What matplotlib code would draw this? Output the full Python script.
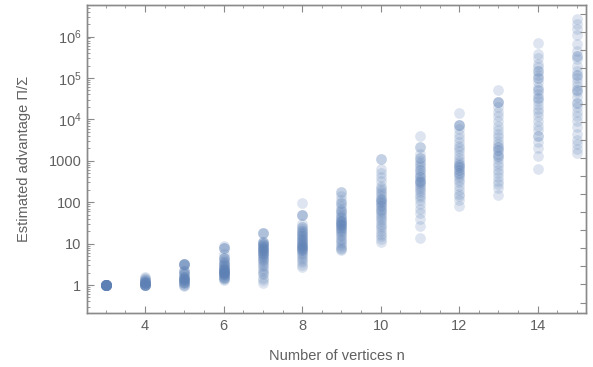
import numpy as np
import matplotlib
matplotlib.use('Agg')
import matplotlib.pyplot as plt
from matplotlib.ticker import FixedLocator, NullFormatter

plt.rcParams['font.family'] = ['Liberation Sans', 'DejaVu Sans']
plt.rcParams['mathtext.fontset'] = 'custom'
plt.rcParams['mathtext.rm'] = 'Liberation Sans'
plt.rcParams['mathtext.it'] = 'Liberation Sans'

# estimated advantage per number of vertices
n3 = [1, 1, 1, 1, 1, 1, 1, 1, 1, 1, 1, 1, 1, 1, 1, 1, 1, 1, 1, 1, 1, 1, 1, 1]
n4 = [1, 1, 1, 1, 1, 1, 1, 1, 1.05, 1.1, 1.1, 1.1, 1.1, 1.15, 1.2, 1.2, 1.2,
      1.25, 1.3, 1.35, 1.4, 1.5, 1.6]
n5 = [3.3, 3.3, 3.3, 3.3, 3.3, 3.0, 2.2, 2.2, 2.2, 2.0, 1.8, 1.8, 1.6, 1.6, 1.6,
      1.5, 1.4, 1.4, 1.4, 1.3, 1.3, 1.3, 1.2, 1.2, 1.2, 1.1, 1.1, 1.0, 1.0, 0.95]
n6 = [9, 8, 8, 8, 5.5, 4.5, 4.5, 4.5, 4, 3.5, 3.2, 3.2, 3, 2.8, 2.8, 2.5, 2.5, 2.5,
      2.3, 2.3, 2.1, 2.1, 2.1, 2.0, 2.0, 1.9, 1.8, 1.8, 1.7, 1.7, 1.6, 1.5, 1.5,
      1.4, 1.35, 2.6, 2.2, 1.9, 1.6, 3.6, 2.4]
n7 = [18, 18, 18, 11, 11, 11, 10, 10, 10, 9, 8, 8, 7.5, 7, 6.5, 6.5, 6, 5.5, 5.5,
      5, 4.5, 4, 3.7, 3.4, 3, 2.8, 2.5, 2.2, 2.0, 1.8, 1.5, 1.3, 1.1, 9, 7, 6,
      5, 4.2, 8.5]
n8 = [95, 48, 48, 48, 30, 25, 25, 22, 20, 18, 18, 16, 15, 15, 13, 12, 12, 11, 10,
      10, 9, 9, 8.5, 8, 7.5, 7, 7, 6.5, 6, 5.5, 5, 4.5, 4, 3.5, 3.0, 2.7, 20, 14,
      11, 9.5, 8]
n9 = [180, 180, 140, 110, 95, 95, 80, 70, 60, 60, 55, 50, 45, 45, 40, 36, 36, 33,
      30, 30, 28, 26, 24, 24, 22, 20, 20, 18, 16, 15, 13, 12, 11, 10, 9, 8, 7.5, 7,
      35, 28]
n10 = [1100, 1100, 650, 500, 400, 320, 250, 220, 200, 180, 160, 140, 120, 120,
       110, 100, 100, 90, 80, 80, 70, 65, 60, 55, 50, 45, 40, 35, 30, 27, 24, 20,
       17, 15, 13, 11]
n11 = [4000, 2200, 2200, 1500, 1200, 1200, 1000, 900, 800, 700, 600, 600, 500,
       450, 400, 400, 350, 320, 300, 300, 270, 250, 220, 200, 180, 150, 130, 110,
       90, 70, 55, 40, 27, 13.5]
n12 = [14500, 7500, 7500, 7500, 6000, 4500, 3500, 2800, 2300, 2000, 1700, 1400,
       1200, 1000, 900, 800, 800, 700, 700, 600, 600, 520, 520, 450, 400, 350,
       300, 250, 200, 160, 140, 110, 82]
n13 = [52000, 26000, 26000, 26000, 20000, 15000, 12000, 9000, 7000, 5500, 4500,
       3800, 3000, 2500, 2200, 2200, 1800, 1800, 1500, 1300, 1300, 1100, 900, 750,
       600, 500, 400, 330, 270, 220, 150]
n14 = [700000, 370000, 300000, 220000, 180000, 150000, 150000, 120000, 100000,
       100000, 80000, 60000, 50000, 50000, 40000, 33000, 33000, 28000, 22000,
       18000, 15000, 12000, 9000, 7000, 5500, 4000, 3900, 2800, 2000, 1300, 630]
n15 = [2700000, 2000000, 1500000, 1100000, 650000, 450000, 340000, 340000,
       280000, 200000, 150000, 120000, 120000, 100000, 80000, 65000, 52000, 52000,
       45000, 35000, 25000, 25000, 20000, 15000, 11800, 9000, 6500, 4500, 3200,
       2500, 1900, 1550]

columns = {3: n3, 4: n4, 5: n5, 6: n6, 7: n7, 8: n8, 9: n9, 10: n10,
           11: n11, 12: n12, 13: n13, 14: n14, 15: n15}

blue = '#5e81b5'
grey = '#606060'
frame = '#8a8a8a'

fig = plt.figure(figsize=(5.93, 3.67), dpi=100)
ax = fig.add_axes([87 / 593, 54 / 367, 499 / 593, 308 / 367])

for n, vals in columns.items():
    ax.scatter([n] * len(vals), vals, s=60, color=blue, alpha=0.2,
               linewidths=0, zorder=3)

ax.set_yscale('log')
ax.set_xlim(2.52, 15.23)
ax.set_ylim(10 ** -0.676, 10 ** 6.763)

# x ticks
ax.xaxis.set_major_locator(FixedLocator([4, 6, 8, 10, 12, 14]))
ax.xaxis.set_minor_locator(FixedLocator(np.arange(2.5, 15.5, 0.5)))
# y ticks
ax.yaxis.set_major_locator(FixedLocator([1, 10, 100, 1000, 1e4, 1e5, 1e6]))
minor = [m * 10.0 ** e for e in range(-1, 7) for m in range(2, 10)]
ax.yaxis.set_minor_locator(FixedLocator(minor))
ax.yaxis.set_minor_formatter(NullFormatter())
ax.set_yticklabels(['1', '10', '100', '1000', r'$10^{4}$', r'$10^{5}$',
                    r'$10^{6}$'])

ax.tick_params(which='both', direction='in', color=frame, labelcolor=grey,
               labelsize=10.5, top=True, right=False)
ax.tick_params(which='major', length=5, width=0.8, pad=4)
ax.tick_params(which='minor', length=2.5, width=0.6)

# right frame ticks
ax2 = ax.twinx()
ax2.set_yscale('log')
ax2.set_ylim(ax.get_ylim())
ax2.yaxis.set_major_locator(FixedLocator(10 ** np.arange(6.55, -0.7, -0.4358)))
ax2.yaxis.set_minor_locator(FixedLocator([]))
ax2.yaxis.set_major_formatter(NullFormatter())
ax2.tick_params(which='both', direction='in', color=frame, length=4, width=0.8)

for a in (ax, ax2):
    for sp in a.spines.values():
        sp.set_color(frame)
        sp.set_linewidth(1.0)

ax.set_xlabel('Number of vertices n', color=grey, fontsize=10.5, labelpad=12)
ax.set_ylabel('Estimated advantage Π/Σ', color=grey, fontsize=10.5, labelpad=13)

fig.savefig('out.png', dpi=100)
